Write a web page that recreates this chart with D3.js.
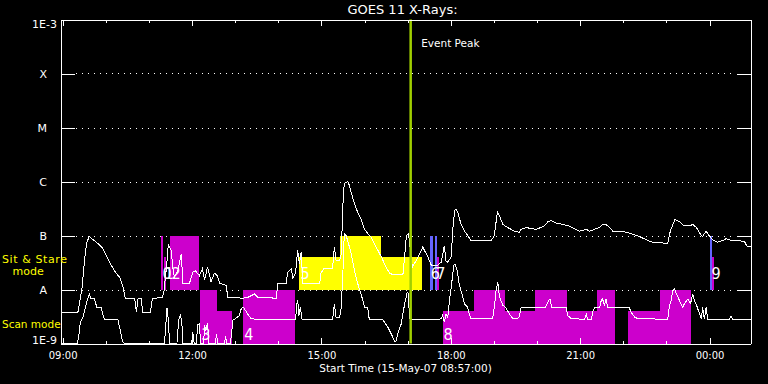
<!DOCTYPE html>
<html>
<head>
<meta charset="UTF-8">
<title>GOES 11 X-Rays</title>
<script src="https://d3js.org/d3.v7.min.js"></script>
<style>
  body { margin: 0; background: #000; }
  svg { display: block; background: #000; }
  text { font-family: "DejaVu Sans", sans-serif; fill: #fff; }
  .axis path, .axis line { stroke: #fff; shape-rendering: crispEdges; }
  .grid { stroke: #fff; stroke-dasharray: 1 5; shape-rendering: crispEdges; }
  .flux { fill: none; stroke: #fff; stroke-width: 1; shape-rendering: crispEdges; }
  .obs { shape-rendering: crispEdges; }
  .num { font-family: "Liberation Sans Narrow", "DejaVu Sans Condensed", sans-serif; fill: #fff; font-size: 16px; }
</style>
</head>
<body>
<svg id="chart" width="768" height="384"></svg>
<script>
// time in decimal hours of 15-May-07 (values above 24 are on 16-May)
var longTime = [8.95, 9.35, 9.39, 9.45, 9.51, 9.56, 9.62, 9.70, 9.81, 9.92, 10.01, 10.13, 10.24, 10.32, 10.39, 10.45, 10.67, 10.71, 10.75, 10.82, 10.86, 11.03, 11.08, 11.13, 11.31, 11.36, 11.38, 11.41, 11.45, 11.52, 11.55, 11.59, 11.67, 11.75, 11.79, 11.94, 12.02, 12.08, 12.17, 12.24, 12.29, 12.36, 12.44, 12.52, 12.59, 12.64, 12.79, 12.83, 13.18, 13.29, 13.45, 13.52, 13.95, 13.99, 14.18, 14.22, 14.30, 14.34, 14.40, 14.45, 14.49, 14.53, 14.57, 14.96, 14.99, 15.07, 15.26, 15.30, 15.34, 15.42, 15.46, 15.50, 15.53, 15.61, 15.65, 15.73, 15.84, 15.92, 16.00, 16.07, 16.15, 16.27, 16.39, 16.50, 16.58, 16.65, 16.89, 16.93, 16.97, 17.02, 17.08, 17.11, 17.23, 17.35, 17.47, 17.55, 17.69, 17.78, 17.81, 17.85, 17.89, 17.93, 18.01, 18.05, 18.09, 18.12, 18.16, 18.24, 18.32, 18.39, 18.47, 18.94, 19.01, 19.08, 19.13, 19.21, 19.32, 19.48, 19.59, 19.63, 19.75, 19.98, 20.17, 20.25, 20.33, 20.44, 20.60, 20.75, 20.98, 21.14, 21.22, 21.33, 21.45, 21.52, 21.60, 21.68, 21.76, 21.91, 22.07, 22.22, 22.37, 22.57, 22.72, 22.84, 23.03, 23.09, 23.15, 23.20, 23.30, 23.42, 23.53, 23.61, 23.70, 23.77, 23.84, 23.92, 23.99, 24.07, 24.19, 24.31, 24.38, 24.50, 24.65, 24.81, 24.87, 24.95];
var longFlux = [3.7e-9, 3.7e-9, 5.4e-9, 1.1e-8, 3.7e-8, 7.5e-8, 9.7e-8, 8.4e-8, 7.2e-8, 5.9e-8, 4.3e-8, 2.8e-8, 2.0e-8, 1.7e-8, 1.2e-8, 6.9e-9, 6.9e-9, 3.8e-9, 6.9e-9, 6.9e-9, 3.7e-9, 3.7e-9, 6.7e-9, 6.9e-9, 7.1e-9, 1.0e-8, 1.7e-8, 2.6e-8, 6.8e-8, 5.3e-8, 2.6e-8, 1.7e-8, 2.2e-8, 4.6e-8, 1.3e-8, 1.3e-8, 2.1e-8, 2.2e-8, 1.8e-8, 2.4e-8, 1.5e-8, 2.6e-8, 1.4e-8, 2.0e-8, 1.8e-8, 1.3e-8, 1.2e-8, 7.2e-9, 6.9e-9, 7.1e-9, 8.3e-9, 7.2e-9, 6.9e-9, 1.3e-8, 1.3e-8, 2.1e-8, 2.4e-8, 1.6e-8, 2.0e-8, 5.3e-8, 3.0e-8, 4.9e-8, 1.3e-8, 1.3e-8, 2.0e-8, 2.5e-8, 2.5e-8, 6.1e-8, 3.5e-8, 3.4e-8, 4.6e-8, 3.9e-7, 9.1e-7, 1.0e-6, 8.4e-7, 4.8e-7, 2.7e-7, 2.0e-7, 1.3e-7, 1.1e-7, 9.3e-8, 6.1e-8, 4.0e-8, 2.6e-8, 2.0e-8, 1.9e-8, 1.9e-8, 4.0e-8, 1.0e-7, 1.1e-7, 4.0e-8, 2.6e-8, 3.8e-8, 6.1e-8, 4.0e-8, 2.8e-8, 2.8e-8, 3.2e-8, 4.3e-8, 6.5e-8, 3.4e-8, 3.2e-8, 4.0e-8, 1.4e-7, 2.9e-7, 3.1e-7, 2.7e-7, 1.6e-7, 1.2e-7, 1.0e-7, 8.1e-8, 8.1e-8, 1.0e-7, 2.7e-7, 2.3e-7, 1.6e-7, 1.4e-7, 1.2e-7, 1.15e-7, 1.3e-7, 1.4e-7, 1.3e-7, 1.5e-7, 1.8e-7, 1.9e-7, 1.7e-7, 1.6e-7, 1.5e-7, 1.2e-7, 1.3e-7, 1.2e-7, 1.3e-7, 1.4e-7, 1.6e-7, 1.6e-7, 1.4e-7, 1.2e-7, 1.2e-7, 1.15e-7, 1.05e-7, 9.6e-8, 8.1e-8, 7.3e-8, 7.5e-8, 7.0e-8, 1.2e-7, 1.6e-7, 2.0e-7, 1.8e-7, 1.5e-7, 1.5e-7, 1.6e-7, 1.4e-7, 1.1e-7, 9.6e-8, 1.2e-7, 1.0e-7, 8.3e-8, 7.5e-8, 8.1e-8, 8.7e-8, 8.1e-8, 8.1e-8, 7.7e-8, 6.3e-8, 6.3e-8];

var shortTime = [8.95, 9.34, 9.37, 9.41, 9.47, 9.53, 9.58, 9.62, 9.66, 9.74, 9.79, 9.89, 9.93, 9.97, 10.28, 10.32, 10.36, 10.39, 10.43, 11.36, 11.40, 11.42, 11.45, 11.48, 11.65, 11.69, 11.73, 11.76, 11.79, 11.99, 12.02, 12.05, 12.10, 12.13, 12.17, 12.20, 12.27, 12.29, 12.32, 12.36, 12.39, 12.54, 12.57, 12.59, 12.75, 12.78, 12.80, 12.89, 12.95, 13.01, 13.10, 13.14, 13.19, 13.24, 13.29, 13.37, 13.47, 14.40, 14.43, 14.45, 14.48, 14.51, 14.55, 15.26, 15.30, 15.34, 15.42, 15.46, 15.50, 15.53, 15.57, 15.61, 15.69, 15.77, 15.84, 15.92, 16.00, 16.07, 16.11, 16.42, 16.46, 16.54, 16.62, 16.70, 16.73, 16.77, 16.85, 16.93, 16.99, 17.02, 17.04, 17.08, 17.70, 17.78, 17.81, 17.85, 17.89, 17.93, 17.97, 18.01, 18.07, 18.10, 18.15, 18.20, 18.28, 18.32, 18.39, 18.43, 18.47, 18.97, 19.01, 19.05, 19.09, 19.13, 19.21, 19.28, 19.36, 19.44, 19.55, 19.59, 19.63, 20.19, 20.27, 20.30, 20.34, 20.68, 20.71, 20.79, 21.10, 21.14, 21.18, 21.26, 21.30, 21.33, 21.45, 21.49, 21.52, 21.56, 21.60, 21.64, 22.14, 22.18, 22.26, 22.33, 23.03, 23.07, 23.11, 23.15, 23.19, 23.23, 23.30, 23.38, 23.42, 23.50, 23.56, 23.61, 23.65, 23.70, 23.77, 23.81, 23.84, 23.88, 23.92, 23.96, 24.46, 24.50, 24.54, 24.95];
var shortFlux = [8e-10, 8e-10, 1.3e-9, 2.5e-9, 3.1e-9, 4.7e-9, 6.7e-9, 8.3e-9, 6.7e-9, 6.7e-9, 4.7e-9, 4.7e-9, 3.5e-9, 2.8e-9, 2.8e-9, 2.0e-9, 1.4e-9, 1.1e-9, 9e-10, 9e-10, 2.7e-9, 4.6e-9, 2.7e-9, 9e-10, 9e-10, 2.7e-9, 3.3e-9, 2.7e-9, 9e-10, 9e-10, 1.6e-9, 9e-10, 9e-10, 2.2e-9, 2.3e-9, 9e-10, 9e-10, 2.2e-9, 1.7e-9, 2.4e-9, 9e-10, 9e-10, 1.5e-9, 9e-10, 9e-10, 1.4e-9, 9e-10, 9e-10, 2.7e-9, 2.9e-9, 3.3e-9, 4.4e-9, 4.7e-9, 4.1e-9, 3.5e-9, 2.9e-9, 2.8e-9, 2.8e-9, 5.4e-9, 6.3e-9, 3.3e-9, 4.7e-9, 2.8e-9, 2.8e-9, 5.4e-9, 3.0e-9, 3.0e-9, 4.7e-9, 2.2e-8, 1.07e-7, 1.0e-7, 8.1e-8, 4.6e-8, 2.2e-8, 1.3e-8, 8.3e-9, 4.7e-9, 4.7e-9, 2.8e-9, 2.8e-9, 2.5e-9, 2.0e-9, 1.5e-9, 1.1e-9, 1.1e-9, 1.5e-9, 2.3e-9, 5.4e-9, 8.9e-9, 8.4e-9, 2.9e-9, 2.75e-9, 2.75e-9, 2.9e-9, 3.3e-9, 2.5e-9, 3.5e-9, 3.1e-9, 6.3e-9, 1.1e-8, 2.8e-8, 2.9e-8, 2.2e-8, 1.2e-8, 7.2e-9, 5.4e-9, 4.7e-9, 3.5e-9, 2.9e-9, 2.9e-9, 4.7e-9, 9.6e-9, 1.4e-8, 7.2e-9, 5.1e-9, 4.6e-9, 3.5e-9, 2.9e-9, 2.9e-9, 3.1e-9, 4.6e-9, 4.6e-9, 6.3e-9, 6.7e-9, 4.6e-9, 4.6e-9, 3.3e-9, 2.9e-9, 2.8e-9, 3.5e-9, 2.8e-9, 2.8e-9, 4.0e-9, 4.6e-9, 4.6e-9, 6.3e-9, 6.7e-9, 5.1e-9, 6.7e-9, 4.7e-9, 4.6e-9, 3.8e-9, 3.1e-9, 2.9e-9, 2.8e-9, 5.1e-9, 6.3e-9, 9.6e-9, 1.03e-8, 8.4e-9, 6.3e-9, 4.7e-9, 5.5e-9, 6.7e-9, 5.5e-9, 8.3e-9, 6.3e-9, 5.1e-9, 3.5e-9, 2.9e-9, 4.7e-9, 2.8e-9, 4.7e-9, 2.8e-9, 2.8e-9, 3.2e-9, 2.8e-9, 2.8e-9];

// observation segments: id, mode, start/end hour, fill level (fraction of band), colour
var segId    = [0, 1, 2, 3, 3, 4, 5, 5, 6, 7, 7, 8, 8, 8, 8, 8, 8, 8, 8, 9, 9];
var segMode  = ["ss", "ss", "ss", "scan", "scan", "scan", "ss", "ss", "ss", "ss", "ss", "scan", "scan", "scan", "scan", "scan", "scan", "scan", "scan", "ss", "ss"];
var segStart = [11.29, 11.34, 11.50, 12.19, 12.57, 13.19, 14.49, 15.44, 17.51, 17.64, 17.675, 17.81, 18.53, 19.26, 19.96, 20.70, 21.40, 22.12, 22.85, 24.02, 24.065];
var segEnd   = [11.325, 11.40, 12.16, 12.57, 12.93, 14.39, 17.33, 16.39, 17.585, 17.69, 17.735, 18.53, 19.26, 19.96, 20.70, 21.40, 21.81, 22.85, 23.57, 24.065, 24.11];
var segLevel = [1, 0.6, 1, 1, 0.6, 1, 0.6, 1, 1, 1, 0.6, 0.6, 1, 0.6, 1, 0.6, 1, 0.6, 1, 1, 0.6];
var segColor = ["m", "m", "m", "m", "m", "m", "y", "y", "b", "b", "m", "m", "m", "m", "m", "m", "m", "m", "m", "b", "m"];

var classTicks = [1e-9, 1e-8, 1e-7, 1e-6, 1e-5, 1e-4, 1e-3];
var classNames = ["1E-9", "A", "B", "C", "M", "X", "1E-3"];
var gridLevels = [1e-8, 1e-7, 1e-6, 1e-5, 1e-4];
var majorHours = [9, 12, 15, 18, 21, 24];
var minorHours = [10, 11, 13, 14, 16, 17, 19, 20, 22, 23];
var eventPeak = 17.07;

var colors = { m: "#cc00cc", y: "#ffff00", b: "#6464ff" };
var bandBase = { ss: 1e-8, scan: 1e-9 };

var svg = d3.select("#chart");
var plotL = 60.5, plotR = 750.5, plotT = 19.5, plotB = 343.5;

var x = d3.scaleLinear().domain([8.95, 24.95]).range([plotL, plotR]);
var y = d3.scaleLog().domain([1e-9, 1e-3]).range([plotB, plotT]).clamp(true);

// dotted class lines
svg.append("g").selectAll("line")
  .data(gridLevels)
  .enter().append("line")
  .attr("class", "grid")
  .attr("x1", 76).attr("x2", 735)
  .attr("y1", d => Math.round(y(d)) + 0.5)
  .attr("y2", d => Math.round(y(d)) + 0.5);

// observation blocks
var segs = segId.map((id, i) => ({
  id: id, mode: segMode[i], t0: segStart[i], t1: segEnd[i], level: segLevel[i], color: segColor[i]
}));

svg.append("g").selectAll("rect")
  .data(segs)
  .enter().append("rect")
  .attr("class", "obs")
  .attr("x", d => x(d.t0))
  .attr("width", d => Math.max(1, x(d.t1) - x(d.t0)))
  .attr("y", d => y(bandBase[d.mode] * Math.pow(10, d.level)))
  .attr("height", d => y(bandBase[d.mode]) - y(bandBase[d.mode] * Math.pow(10, d.level)))
  .attr("fill", d => colors[d.color]);

// flux curves
var line = d3.line()
  .x(d => x(d[0]))
  .y(d => y(d[1]));

svg.append("path")
  .datum(longTime.map((t, i) => [t, longFlux[i]]))
  .attr("class", "flux")
  .attr("d", line);

svg.append("path")
  .datum(shortTime.map((t, i) => [t, shortFlux[i]]))
  .attr("class", "flux")
  .attr("d", line);

// observation numbers
var firstSegs = segs.filter((d, i) => segs.findIndex(s => s.id === d.id) === i);
svg.append("g").selectAll("text")
  .data(firstSegs)
  .enter().append("text")
  .attr("class", "num")
  .attr("x", d => x(d.t0) + 1)
  .attr("y", d => d.mode === "ss" ? y(1e-8) - 10.5 : plotB - 4)
  .text(d => d.id);

// event peak
svg.append("line")
  .attr("x1", x(eventPeak)).attr("x2", x(eventPeak))
  .attr("y1", plotT).attr("y2", plotB)
  .attr("stroke", "#a0d000")
  .attr("stroke-width", 2.5);

svg.append("text")
  .attr("x", x(eventPeak) + 10.5)
  .attr("y", 47)
  .style("font-size", "10.5px")
  .text("Event Peak");

// axes
svg.append("g")
  .attr("class", "axis")
  .attr("transform", "translate(" + plotL + ",0)")
  .call(d3.axisLeft(y).tickValues(classTicks).tickSizeInner(-14).tickSizeOuter(0).tickPadding(4)
    .tickFormat((d, i) => classNames[i]))
  .call(g => g.selectAll("text")
    .style("font-size", "11px")
    .attr("x", (d, i) => (i === 0 || i === 6) ? -3.5 : -13.5)
    .attr("dy", (d, i) => i === 6 ? "0.75em" : (i === 0 ? "0" : "0.36em")));

svg.append("g")
  .attr("class", "axis")
  .attr("transform", "translate(" + plotR + ",0)")
  .call(d3.axisRight(y).tickValues(classTicks).tickSizeInner(-14).tickSizeOuter(0).tickFormat(""));

svg.append("g")
  .attr("class", "axis")
  .attr("transform", "translate(0," + plotB + ")")
  .call(d3.axisBottom(x).tickValues(majorHours).tickSizeInner(-6).tickSizeOuter(0).tickPadding(8)
    .tickFormat(d => d3.format("02")(d % 24) + ":00"))
  .call(g => g.selectAll("text").style("font-size", "10px"));

svg.append("g")
  .attr("class", "axis")
  .attr("transform", "translate(0," + plotB + ")")
  .call(d3.axisBottom(x).tickValues(minorHours).tickSizeInner(-3).tickSizeOuter(0).tickFormat(""));

svg.append("g")
  .attr("class", "axis")
  .attr("transform", "translate(0," + plotT + ")")
  .call(d3.axisTop(x).tickValues(majorHours).tickSizeInner(-6).tickSizeOuter(0).tickFormat(""));

svg.append("g")
  .attr("class", "axis")
  .attr("transform", "translate(0," + plotT + ")")
  .call(d3.axisTop(x).tickValues(minorHours).tickSizeInner(-3).tickSizeOuter(0).tickFormat(""));

// titles
svg.append("text")
  .attr("x", (plotL + plotR) / 2 - 3)
  .attr("y", 14)
  .attr("text-anchor", "middle")
  .style("font-size", "13px")
  .text("GOES 11 X-Rays:");

svg.append("text")
  .attr("x", (plotL + plotR) / 2)
  .attr("y", 372)
  .attr("text-anchor", "middle")
  .style("font-size", "10.5px")
  .text("Start Time (15-May-07 08:57:00)");

svg.append("text")
  .attr("x", 2).attr("y", 263)
  .style("font-size", "11px").style("fill", "#ffff00")
  .attr("textLength", 65)
  .text("Sit & Stare");

svg.append("text")
  .attr("x", 12.5).attr("y", 275)
  .style("font-size", "11px").style("fill", "#ffff00")
  .text("mode");

svg.append("text")
  .attr("x", 2).attr("y", 328)
  .style("font-size", "10.5px").style("fill", "#ffff00")
  .text("Scan mode");
</script>
</body>
</html>
